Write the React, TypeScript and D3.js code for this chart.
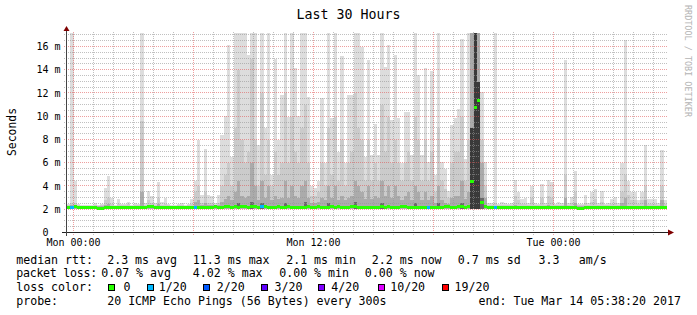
import React from "react";
import * as d3 from "d3";

// ---------- data ----------
const START = Date.UTC(2017, 2, 12, 23, 42);
const END = Date.UTC(2017, 2, 14, 5, 42);
const STEP_MS = 10 * 60 * 1000;
const Y_MAX = 17.2;
const SMOKE_FLOOR = 2.1;

const chartTitle = "Last 30 Hours";
const yAxisTitle = "Seconds";
const watermark = "RRDTOOL / TOBI OETIKER";
const yTicks = [0, 2, 4, 6, 8, 10, 12, 14, 16];
const yTickLabels = ["0  ", "2 m", "4 m", "6 m", "8 m", "10 m", "12 m", "14 m", "16 m"];

// smoke: max ping per 10-min step (ms)
const smokeMax = [
  2.5, 18, 4.5, 2.5, 2.4, 2.4, 2.4, 2.4, 2.6, 2.4,
  2.5, 3.9, 4.9, 3.0, 2.4, 2.9, 2.5, 2.5, 2.7, 2.4,
  2.6, 2.5, 18, 2.6, 3.6, 3.2, 2.6, 4.4, 2.7, 3.0,
  2.5, 2.4, 2.4, 2.5, 2.6, 2.4, 2.5, 2.9, 4.5, 8.0,
  3.3, 7.2, 3.3, 3.2, 2.6, 3.3, 8.4, 10.1, 16.2, 6.5,
  18, 18, 18, 18, 15.3, 18, 18, 7.6, 18, 9.0,
  18, 5.0, 15.0, 8.0, 11.9, 18, 10.0, 18, 14.2, 10.1,
  18, 18, 11.7, 4.0, 3.9, 4.5, 11.6, 6.0, 18, 9.9,
  18, 7.0, 15.2, 6.0, 11.9, 11.9, 18, 18, 16.0, 6.5,
  14.9, 6.7, 9.4, 6.7, 18, 14.3, 16.2, 9.7, 15.3, 9.9,
  6.0, 10.4, 10.4, 6.7, 18, 13.6, 6.7, 14.2, 6.1, 13.9,
  5.0, 18, 6.1, 5.5, 3.6, 9.3, 9.9, 10.7, 16.7, 6.4,
  18, 18, 18, 18, 12.1, 6.1, 2.6, 2.6, 18, 2.5,
  2.7, 2.6, 2.5, 2.6, 4.6, 3.5, 2.9, 3.0, 2.6, 4.0,
  2.6, 2.5, 4.2, 2.6, 4.6, 4.4, 2.5, 2.7, 2.6, 14.9,
  2.6, 3.1, 5.3, 2.5, 2.5, 3.3, 2.6, 3.5, 3.8, 2.6,
  3.6, 2.5, 2.6, 2.9, 3.1, 2.6, 6.0, 16.6, 4.5, 3.5,
  3.5, 2.8, 3.5, 7.6, 2.9, 2.9, 2.9, 2.6, 7.1, 2.8,
];

// smoke: upper-middle pings
const smokeMid = [
  2.4, 2.6, 2.6, 2.4, 2.35, 2.35, 2.35, 2.35, 2.4, 2.35,
  2.4, 2.8, 3.0, 2.5, 2.35, 2.5, 2.4, 2.4, 2.5, 2.35,
  2.4, 2.4, 9.6, 2.4, 2.8, 2.6, 2.4, 3.0, 2.4, 2.5,
  2.4, 2.35, 2.35, 2.4, 2.4, 2.35, 2.4, 2.5, 3.5, 4.0,
  2.6, 3.5, 2.6, 2.6, 2.4, 2.6, 4.0, 5.0, 6.0, 4.0,
  9, 14, 8, 6, 7, 15, 8, 4, 12, 5,
  8, 4, 7, 5, 6, 12, 6, 10, 7, 6,
  9, 11, 6, 3.2, 3.2, 3.5, 6, 4, 9, 5,
  10, 4.5, 8, 4, 6, 7, 12, 9, 8, 4.5,
  8, 4.5, 6, 4.5, 11, 7, 10, 6, 8, 6,
  4.5, 6, 7, 4.5, 10, 8, 4.5, 8, 4.5, 7,
  3.5, 9, 4.5, 3.8, 3.0, 6, 7, 7, 10, 4.5,
  8, 18, 18, 18, 8, 4, 2.4, 2.4, 2.6, 2.4,
  2.4, 2.4, 2.4, 2.4, 3.2, 2.8, 2.5, 2.5, 2.4, 3.0,
  2.4, 2.4, 3.0, 2.4, 3.2, 3.0, 2.4, 2.4, 2.4, 5.0,
  2.4, 2.6, 3.5, 2.4, 2.4, 2.6, 2.4, 2.7, 2.9, 2.4,
  2.7, 2.4, 2.4, 2.5, 2.6, 2.4, 3.5, 5.0, 3.3, 2.8,
  2.8, 2.5, 2.8, 4.0, 2.5, 2.5, 2.5, 2.4, 4.0, 2.5,
];

// smoke: lower-middle pings
const smokeLow = [
  2.3, 2.4, 2.4, 2.3, 2.3, 2.3, 2.3, 2.3, 2.3, 2.3,
  2.3, 2.4, 2.5, 2.3, 2.3, 2.3, 2.3, 2.3, 2.3, 2.3,
  2.3, 2.3, 3.5, 2.3, 2.4, 2.3, 2.3, 2.5, 2.3, 2.3,
  2.3, 2.3, 2.3, 2.3, 2.3, 2.3, 2.3, 2.3, 2.7, 2.8,
  2.4, 2.6, 2.4, 2.4, 2.3, 2.4, 2.7, 2.9, 3.2, 2.8,
  3.5, 4.5, 3.2, 3, 3.2, 6, 4, 2.8, 4.5, 3,
  4, 2.8, 3.2, 2.9, 3, 4.5, 3, 4, 3.2, 3,
  4, 4.5, 3, 2.6, 2.6, 2.7, 3, 2.8, 4, 3,
  4, 2.8, 3.2, 2.8, 3, 3.2, 4.5, 4, 3.5, 2.9,
  4, 2.9, 3.2, 3, 4.5, 3.2, 4, 3, 4, 3.2,
  2.8, 3.2, 3.5, 2.8, 4, 3.5, 2.8, 3.5, 2.8, 3.2,
  2.6, 4, 2.8, 2.6, 2.5, 3, 3.2, 3.2, 4.5, 2.9,
  3.5, 18, 18, 18, 6, 3, 2.3, 2.3, 2.3, 2.3,
  2.3, 2.3, 2.3, 2.3, 2.4, 2.3, 2.3, 2.3, 2.3, 2.3,
  2.3, 2.3, 2.3, 2.3, 2.4, 2.3, 2.3, 2.3, 2.3, 3.0,
  2.3, 2.3, 2.6, 2.3, 2.3, 2.3, 2.3, 2.3, 2.3, 2.3,
  2.3, 2.3, 2.3, 2.3, 2.3, 2.3, 2.6, 3.0, 2.3, 2.3,
  2.3, 2.3, 2.3, 2.8, 2.3, 2.3, 2.3, 2.3, 2.8, 2.3,
];

// smoke: dense pings just above the median, [step index, ms]
const smokeCorePoints: [number, number][] = [
  [51, 2.6], [55, 2.7], [58, 2.6], [65, 2.6], [71, 2.7], [78, 2.55],
  [86, 2.7], [94, 2.6], [104, 2.55], [111, 2.55], [118, 2.6], [124, 3.0],
];

// smoke: the tightly packed burst, [step index, ms]
const smokeDensePoints: [number, number][] = [[121, 9], [122, 18], [123, 13]];

// median rtt per step (ms)
const medianRtt = [
  2.22, 2.2, 2.25, 2.22, 2.2, 2.2, 2.18, 2.2, 2.2, 2.15,
  2.15, 2.17, 2.2, 2.2, 2.18, 2.2, 2.2, 2.18, 2.2, 2.2,
  2.2, 2.2, 2.2, 2.22, 2.26, 2.25, 2.2, 2.2, 2.2, 2.22,
  2.2, 2.2, 2.2, 2.2, 2.16, 2.18, 2.2, 2.2, 2.2, 2.2,
  2.2, 2.22, 2.2, 2.22, 2.24, 2.2, 2.22, 2.25, 2.24, 2.22,
  2.25, 2.22, 2.24, 2.25, 2.22, 2.24, 2.25, 2.22, 2.25, 2.24,
  2.22, 2.2, 2.22, 2.25, 2.2, 2.22, 2.24, 2.2, 2.18, 2.2,
  2.2, 2.22, 2.25, 2.2, 2.22, 2.25, 2.22, 2.2, 2.2, 2.24,
  2.22, 2.24, 2.2, 2.22, 2.22, 2.25, 2.24, 2.22, 2.2, 2.2,
  2.2, 2.22, 2.2, 2.22, 2.25, 2.2, 2.24, 2.22, 2.2, 2.22,
  2.24, 2.25, 2.22, 2.2, 2.2, 2.22, 2.2, 2.22, 2.2, 2.2,
  2.22, 2.2, 2.22, 2.24, 2.25, 2.22, 2.2, 2.24, 2.25, 2.22,
  2.3, 4.4, 10.8, 11.4, 2.6, 2.3, 2.2, 2.2, 2.2, 2.2,
  2.2, 2.22, 2.2, 2.2, 2.2, 2.18, 2.2, 2.2, 2.22, 2.2,
  2.2, 2.2, 2.18, 2.2, 2.2, 2.2, 2.22, 2.2, 2.2, 2.2,
  2.2, 2.2, 2.2, 2.15, 2.15, 2.18, 2.2, 2.2, 2.2, 2.2,
  2.2, 2.2, 2.2, 2.18, 2.2, 2.2, 2.2, 2.22, 2.22, 2.2,
  2.18, 2.2, 2.2, 2.2, 2.2, 2.2, 2.2, 2.2, 2.2, 2.2,
];

// [step index, lost pings out of 20]
const lossEvents: [number, number][] = [[1, 1], [38, 1], [58, 1], [108, 1], [128, 1]];

const lossLevels = [0, 1, 2, 3, 4, 10, 19];
const lossLabels = ["0", "1/20", "2/20", "3/20", "4/20", "10/20", "19/20"];
const lossColors = ["#26ff00", "#00b8ff", "#0059ff", "#5e00ff", "#7e00ff", "#dd00ff", "#ff0000"];

const rttLegend = ["2.3 ms avg", "11.3 ms max", "2.1 ms min", "2.2 ms now", "0.7 ms sd", "3.3", "am/s"];
const lossLegend = ["0.07 % avg", "4.02 % max", "0.00 % min", "0.00 % now"];
const legendHeads = ["median rtt:", "packet loss:", "loss color:", "probe:"];
const probeText = "20 ICMP Echo Pings (56 Bytes) every 300s";
const endText = "end: Tue Mar 14 05:38:20 2017";

// ---------- layout ----------
const W = 697;
const H = 315;
const PLOT_L = 67;
const PLOT_R = 667;
const PLOT_T = 33;
const PLOT_B = 233;
const FONT = "'DejaVu Sans Mono', monospace";
const rttX = [107.2, 192.8, 286.2, 371.8, 457.8, 538.5, 578.8];
const lossX = [101.2, 192.8, 279.2, 364.8];
const boxX = [108.5, 147, 203.5, 261.5, 318.5, 378, 442];
const boxLabelX = [123.5, 158.8, 216.8, 274.5, 331.2, 390.2, 454.5];
const lineY = [263.5, 277.3, 291, 305];

const lossColor = (c: number) => {
  let k = 0;
  lossLevels.forEach((lv, i) => {
    if (c >= lv) k = i;
  });
  return lossColors[k];
};

export default function App() {
  const x = d3.scaleUtc().domain([new Date(START), new Date(END)]).range([PLOT_L, PLOT_R]);
  const y = d3.scaleLinear().domain([0, Y_MAX]).range([PLOT_B, PLOT_T]).clamp(true);
  const N = smokeMax.length;
  const times = d3.range(N + 1).map((i) => new Date(START + i * STEP_MS));
  const lossMap = new Map<number, number>(lossEvents);
  const coreMap = new Map<number, number>(smokeCorePoints);
  const denseMap = new Map<number, number>(smokeDensePoints);
  const smokeCore = medianRtt.map((_, i) => coreMap.get(i) ?? SMOKE_FLOOR);
  const smokeDense = medianRtt.map((_, i) => denseMap.get(i) ?? SMOKE_FLOOR);

  const layer = (arr: number[]) =>
    d3
      .area<Date>()
      .x((d) => x(d))
      .y0(y(SMOKE_FLOOR))
      .y1((_, i) => y(Math.max(arr[Math.min(i, N - 1)], SMOKE_FLOOR)))
      .curve(d3.curveStepAfter)(times) || "";

  const hourTicks = x.ticks(d3.utcHour.every(1) as any);
  const minorV = hourTicks.filter((t) => t.getUTCHours() % 6 !== 0);
  const majorV = hourTicks.filter((t) => t.getUTCHours() % 6 === 0);
  const labelV = hourTicks.filter((t) => t.getUTCHours() % 12 === 0);
  const fmt = d3.utcFormat("%a %H:%M");

  const halfSteps = d3.range(1, 35).map((k) => k * 0.5);
  const minorH = halfSteps.filter((v) => v % 2 !== 0);
  const majorH = halfSteps.filter((v) => v % 2 === 0);

  const py = (v: number) => Math.round(y(v)) - 0.5;
  const px = (t: Date) => Math.round(x(t)) + 0.5;

  const minorStroke = "rgba(150,150,150,0.6)";
  const majorStroke = "rgba(224,80,80,0.55)";

  return (
    <svg
      width={W}
      height={H}
      viewBox={`0 0 ${W} ${H}`}
      style={{ position: "absolute", left: 0, top: 0, background: "#fff" }}
      fontFamily={FONT}
    >
      <rect x={0} y={0} width={W} height={H} fill="#ffffff" />

      {/* smoke */}
      <g shapeRendering="crispEdges">
        <path d={layer(smokeMax)} fill="#dddddd" />
        <path d={layer(smokeMid)} fill="#cbcbcb" />
        <path d={layer(smokeLow)} fill="#ababab" />
        <path d={layer(smokeCore)} fill="#6a6a6a" />
        <path d={layer(smokeDense)} fill="#3a3a3a" />
      </g>

      {/* grid */}
      <g shapeRendering="crispEdges" strokeWidth={1} strokeDasharray="1,1" fill="none">
        {minorH.map((v) => (
          <line key={"mh" + v} x1={PLOT_L - 3} x2={PLOT_R} y1={py(v)} y2={py(v)} stroke={minorStroke} />
        ))}
        {minorV.map((t) => (
          <line key={"mv" + t.getTime()} x1={px(t)} x2={px(t)} y1={PLOT_T - 1} y2={PLOT_B + 2} stroke={minorStroke} />
        ))}
        {majorH.map((v) => (
          <line key={"Mh" + v} x1={PLOT_L - 3} x2={PLOT_R} y1={py(v)} y2={py(v)} stroke={majorStroke} />
        ))}
        {majorV.map((t) => (
          <line key={"Mv" + t.getTime()} x1={px(t)} x2={px(t)} y1={PLOT_T - 1} y2={PLOT_B + 3} stroke={majorStroke} />
        ))}
      </g>

      {/* median */}
      <g shapeRendering="crispEdges">
        {medianRtt.map((m, i) => (
          <rect
            key={"m" + i}
            x={x(times[i])}
            width={x(times[i + 1]) - x(times[i])}
            y={y(m) - 1.5}
            height={3}
            fill={lossColor(lossMap.get(i) ?? 0)}
          />
        ))}
      </g>

      {/* axes */}
      <g shapeRendering="crispEdges">
        <line x1={62} x2={668} y1={PLOT_B - 0.5} y2={PLOT_B - 0.5} stroke="#222" />
        <line x1={PLOT_L - 0.5} x2={PLOT_L - 0.5} y1={PLOT_B + 3} y2={29} stroke="#444" />
      </g>
      <polygon points="63.5,31 69.5,31 66.5,26" fill="#7f0000" />
      <polygon points="668,229.5 668,235.5 674,232.5" fill="#7f0000" />

      {/* y tick labels */}
      {yTicks.map((v, i) => (
        <text
          key={"yl" + v}
          x={60.5}
          y={y(v) + 3.2}
          textAnchor="end"
          fontSize={10}
          fill="#000"
          style={{ whiteSpace: "pre" }}
        >
          {yTickLabels[i]}
        </text>
      ))}

      {/* x tick labels */}
      {labelV.map((t) => (
        <text key={"xl" + t.getTime()} x={x(t) + 0.5} y={246} textAnchor="middle" fontSize={10} fill="#000">
          {fmt(t)}
        </text>
      ))}

      {/* titles */}
      <text x={348.5} y={18.5} textAnchor="middle" fontSize={13.3} fill="#000">
        {chartTitle}
      </text>
      <text transform="translate(15.5,132) rotate(-90)" textAnchor="middle" fontSize={11.4} fill="#000">
        {yAxisTitle}
      </text>
      <text
        transform="translate(684.5,5) rotate(90)"
        textAnchor="start"
        fontSize={8.6}
        fill="#b4b4b4"
        textLength={112}
        lengthAdjust="spacingAndGlyphs"
      >
        {watermark}
      </text>

      {/* legend */}
      <g fontSize={11.6} fill="#000">
        {legendHeads.map((h, i) => (
          <text key={"lh" + i} x={16.2} y={lineY[i]} textLength={i === 1 ? 81 : undefined}>
            {h}
          </text>
        ))}
        {rttLegend.map((s, i) => (
          <text key={"rt" + i} x={rttX[i]} y={lineY[0]}>
            {s}
          </text>
        ))}
        {lossLegend.map((s, i) => (
          <text key={"pl" + i} x={lossX[i]} y={lineY[1]}>
            {s}
          </text>
        ))}
        {lossLabels.map((s, i) => (
          <g key={"lc" + i}>
            <rect
              x={boxX[i]}
              y={lineY[2] - 6.5}
              width={6}
              height={6}
              fill={lossColors[i]}
              stroke="#000"
              strokeWidth={1}
              shapeRendering="crispEdges"
            />
            <text x={boxLabelX[i]} y={lineY[2]}>
              {s}
            </text>
          </g>
        ))}
        <text x={107.2} y={lineY[3]}>
          {probeText}
        </text>
        <text x={478.5} y={lineY[3]}>
          {endText}
        </text>
      </g>
    </svg>
  );
}
